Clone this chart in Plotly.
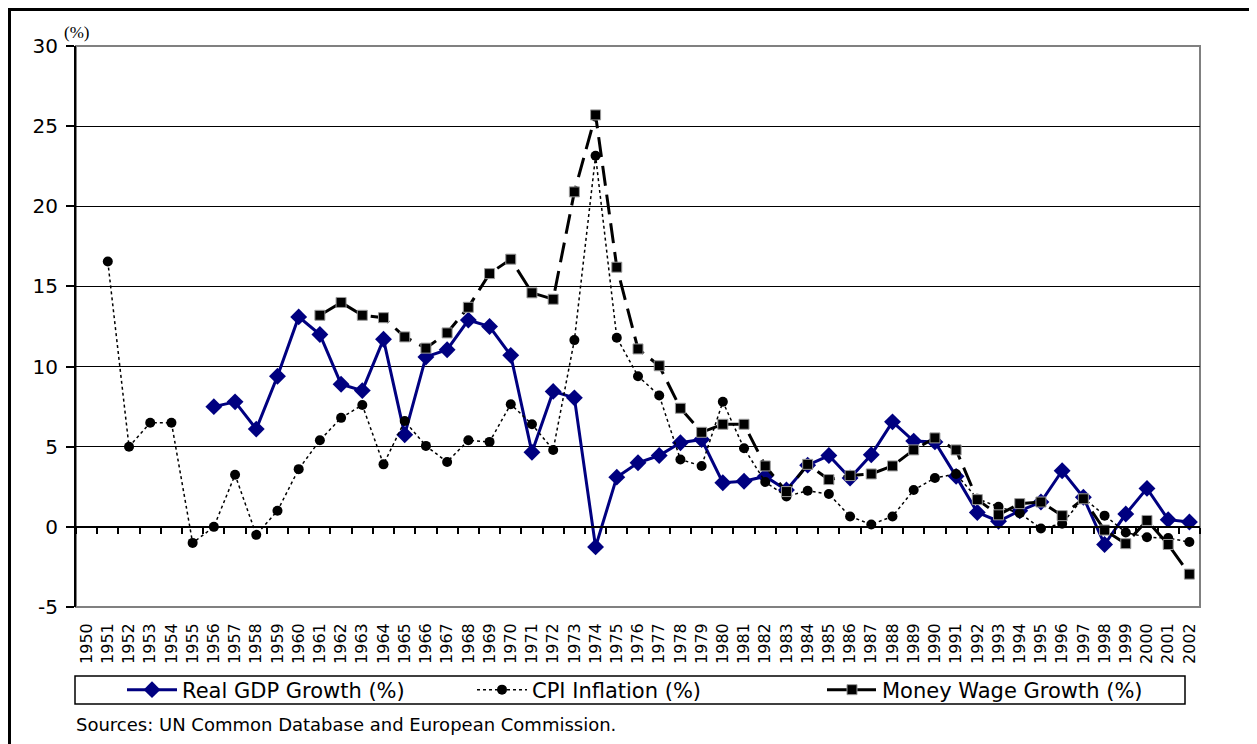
import plotly.graph_objects as go

years = ["1950", "1951", "1952", "1953", "1954", "1955", "1956", "1957", "1958", "1959",
         "1960", "1961", "1962", "1963", "1964", "1965", "1966", "1967", "1968", "1969",
         "1970", "1971", "1972", "1973", "1974", "1975", "1976", "1977", "1978", "1979",
         "1980", "1981", "1982", "1983", "1984", "1985", "1986", "1987", "1988", "1989",
         "1990", "1991", "1992", "1993", "1994", "1995", "1996", "1997", "1998", "1999",
         "2000", "2001", "2002"]

gdp = [None, None, None, None, None, None, 7.5, 7.8, 6.1, 9.4,
       13.1, 12.0, 8.9, 8.5, 11.7, 5.75, 10.6, 11.05, 12.9, 12.5,
       10.7, 4.65, 8.45, 8.05, -1.25, 3.1, 4.0, 4.45, 5.25, 5.45,
       2.75, 2.85, 3.15, 2.3, 3.85, 4.45, 3.05, 4.5, 6.55, 5.35,
       5.3, 3.15, 0.9, 0.35, 1.0, 1.55, 3.5, 1.85, -1.1, 0.8,
       2.4, 0.45, 0.3]

cpi = [None, 16.55, 5.0, 6.5, 6.5, -1.0, 0.0, 3.25, -0.5, 1.0,
       3.6, 5.4, 6.8, 7.6, 3.9, 6.6, 5.05, 4.05, 5.4, 5.3,
       7.65, 6.4, 4.8, 11.65, 23.15, 11.8, 9.4, 8.2, 4.2, 3.8,
       7.8, 4.9, 2.8, 1.9, 2.25, 2.05, 0.65, 0.15, 0.65, 2.3,
       3.05, 3.3, 1.75, 1.25, 0.85, -0.1, 0.2, 1.8, 0.7, -0.35,
       -0.65, -0.7, -0.95]

wage = [None, None, None, None, None, None, None, None, None, None,
        None, 13.2, 14.0, 13.2, 13.05, 11.85, 11.15, 12.1, 13.7, 15.8,
        16.7, 14.6, 14.2, 20.9, 25.7, 16.2, 11.1, 10.05, 7.4, 5.9,
        6.4, 6.4, 3.8, 2.2, 3.9, 2.95, 3.2, 3.3, 3.8, 4.8,
        5.55, 4.8, 1.7, 0.75, 1.45, 1.55, 0.7, 1.75, -0.2, -1.05,
        0.4, -1.1, -2.95]

y_ticks = [-5, 0, 5, 10, 15, 20, 25, 30]

SANS = "DejaVu Sans, Arial, sans-serif"
OFF = 8  # page body margin
W, H = 1249, 736
ML, MR, MT, MB = 68, 57, 38, 137
PW, PH = W - ML - MR, H - MT - MB


def px_x(page_x):
    return (page_x - OFF - ML) / PW


def px_y(page_y):
    return (H - MB - (page_y - OFF)) / PH


fig = go.Figure()

fig.add_trace(go.Scatter(
    x=years, y=gdp, name="Real GDP Growth (%)", mode="lines+markers",
    line=dict(color="#000080", width=3),
    marker=dict(symbol="diamond", size=13, color="#000080"),
    hoverinfo="skip"))

fig.add_trace(go.Scatter(
    x=years, y=cpi, name="CPI Inflation (%)", mode="lines+markers",
    line=dict(color="black", width=1.5, dash="dot"),
    marker=dict(symbol="circle", size=10, color="black"),
    hoverinfo="skip"))

fig.add_trace(go.Scatter(
    x=years, y=wage, name="Money Wage Growth (%)", mode="lines+markers",
    line=dict(color="black", width=3, dash="20px,9px"),
    marker=dict(symbol="square", size=10, color="black",
                line=dict(color="#9a9a9a", width=1)),
    hoverinfo="skip"))

# dummy trace so the zero-line category axis is drawn
fig.add_trace(go.Scatter(
    x=years, y=[None] * len(years), xaxis="x2", showlegend=False,
    hoverinfo="skip", mode="lines"))

fig.update_layout(
    width=W, height=H,
    margin=dict(l=ML, r=MR, t=MT, b=MB),
    paper_bgcolor="white", plot_bgcolor="white",
    font=dict(family=SANS, color="black"),
    showlegend=True,
    legend=dict(
        orientation="h", x=px_x(122), y=px_y(690), xanchor="left", yanchor="middle",
        font=dict(family=SANS, size=21, color="black"),
        bgcolor="rgba(0,0,0,0)", borderwidth=0,
        entrywidth=285, entrywidthmode="pixels", itemwidth=50,
        traceorder="normal"),
    xaxis=dict(
        type="category", categoryorder="array", categoryarray=years,
        range=[-0.5, len(years) - 0.5],
        showgrid=False, zeroline=False, showline=False,
        ticks="", tickangle=-90,
        tickfont=dict(family=SANS, size=16, color="black"),
        ticklabelstandoff=12),
    xaxis2=dict(
        type="category", categoryorder="array", categoryarray=years,
        range=[-0.5, len(years) - 0.5],
        overlaying="x", anchor="free", position=(0 - (-5)) / 35,
        showgrid=False, zeroline=False,
        showline=True, linecolor="black", linewidth=1.5,
        ticks="outside", ticklen=6, tickwidth=1.5, tickcolor="black",
        tickson="boundaries", showticklabels=False),
    yaxis=dict(
        range=[-5, 30], tickvals=y_ticks, ticktext=[str(v) for v in y_ticks],
        showgrid=True, gridcolor="black", gridwidth=1,
        zeroline=False, showline=True, linecolor="black", linewidth=2,
        ticks="outside", ticklen=8, tickwidth=1.5, tickcolor="black",
        tickfont=dict(family=SANS, size=20, color="black"),
        ticklabelstandoff=4),
)

# plot-area border (gray, Excel style)
fig.add_shape(type="rect", xref="x domain", yref="y domain",
              x0=0, x1=1, y0=0, y1=1, line=dict(color="#808080", width=2),
              layer="below")
# legend box
fig.add_shape(type="rect", xref="paper", yref="paper",
              x0=px_x(75), x1=px_x(1185), y0=px_y(704), y1=px_y(676),
              line=dict(color="black", width=1.5))
# outer chart frame
fig.add_shape(type="rect", xref="paper", yref="paper",
              x0=px_x(9.5), x1=px_x(1252.5), y0=px_y(770), y1=px_y(9.5),
              line=dict(color="black", width=3))

fig.add_annotation(text="(%)", xref="paper", yref="paper",
                   x=px_x(62), y=px_y(44), xanchor="left", yanchor="bottom",
                   showarrow=False,
                   font=dict(family="Liberation Serif, Times New Roman, serif",
                             size=17, color="black"))
fig.add_annotation(text="Sources: UN Common Database and European Commission.",
                   xref="paper", yref="paper", x=px_x(74), y=px_y(724),
                   xanchor="left", yanchor="middle", showarrow=False,
                   font=dict(family=SANS, size=18, color="black"))

fig.write_html("out.html")
